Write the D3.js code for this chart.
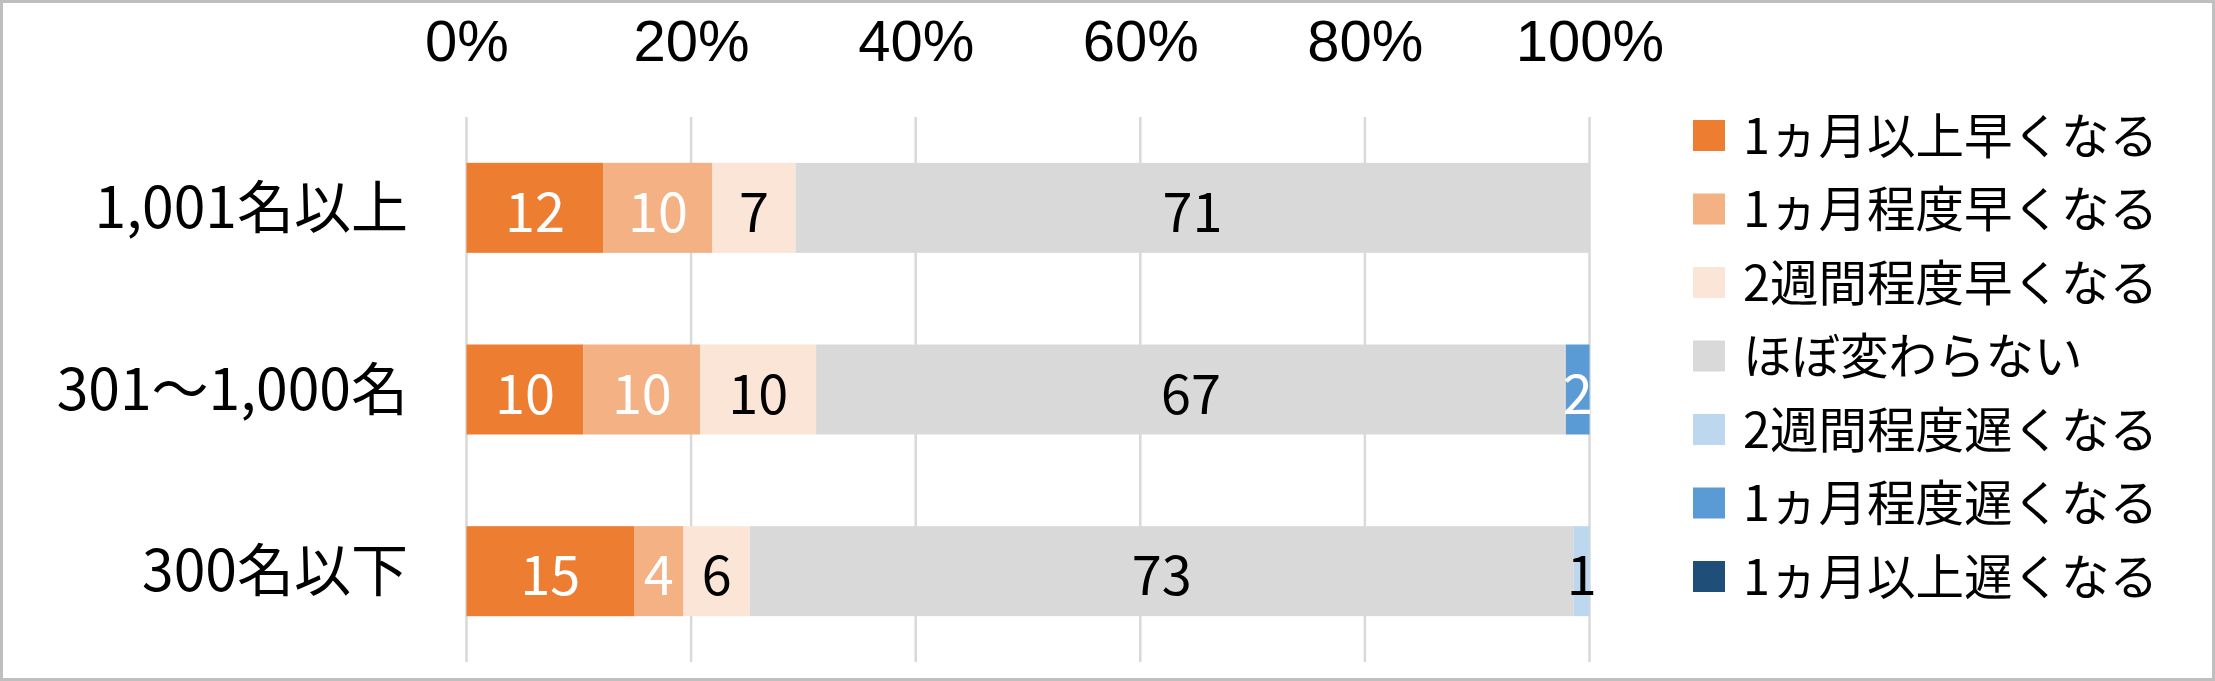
<!DOCTYPE html>
<html>
<head>
<meta charset="utf-8">
<script src="https://cdn.jsdelivr.net/npm/d3@7"></script>
<style>
  html, body { margin: 0; padding: 0; background: #fff; }
  svg { display: block; }
  text { font-family: "Noto Sans CJK JP", "Noto Sans", sans-serif; }
</style>
</head>
<body>
<svg id="chart" width="2215" height="681"></svg>
<script>
// ---- data ----
const categories = ["1,001名以上", "301～1,000名", "300名以下"];
const seriesNames = ["1ヵ月以上早くなる", "1ヵ月程度早くなる", "2週間程度早くなる", "ほぼ変わらない", "2週間程度遅くなる", "1ヵ月程度遅くなる", "1ヵ月以上遅くなる"];
const seriesColors = ["#ED7D31", "#F4B183", "#FBE5D6", "#D9D9D9", "#BDD7EE", "#5B9BD5", "#1F4E79"];
const labelColors = ["#ffffff", "#ffffff", "#000000", "#000000", "#000000", "#ffffff", "#ffffff"];
const s1 = [12.2, 10.4, 14.9];   // 1ヵ月以上早くなる
const s2 = [9.7, 10.4, 4.4];     // 1ヵ月程度早くなる
const s3 = [7.4, 10.3, 5.9];     // 2週間程度早くなる
const s4 = [70.7, 66.7, 73.3];   // ほぼ変わらない
const s5 = [0, 0, 1.4];          // 2週間程度遅くなる
const s6 = [0, 2.1, 0];          // 1ヵ月程度遅くなる
const s7 = [0, 0, 0];            // 1ヵ月以上遅くなる
const tickValues = [0, 0.2, 0.4, 0.6, 0.8, 1.0];

const seriesValues = [s1, s2, s3, s4, s5, s6, s7];
const rows = categories.map((c, i) => {
  const r = { cat: c };
  seriesNames.forEach((n, k) => r[n] = seriesValues[k][i]);
  return r;
});

// ---- layout ----
const svg = d3.select("#chart");
const W = 2215, H = 681;
const plot = { left: 466.5, right: 1589.5, top: 117, bottom: 662 };

svg.append("rect").attr("x", 1.5).attr("y", 1.5).attr("width", W - 3).attr("height", H - 3)
  .attr("fill", "#fff").attr("stroke", "#BFBFBF").attr("stroke-width", 3);

const x = d3.scaleLinear().domain([0, 1]).range([plot.left, plot.right]);
const y = d3.scaleBand().domain(categories).range([plot.top, plot.bottom])
  .paddingInner(0.5046).paddingOuter(0.2523);

// gridlines
svg.append("g").selectAll("line").data(tickValues).join("line")
  .attr("x1", d => x(d)).attr("x2", d => x(d))
  .attr("y1", plot.top).attr("y2", plot.bottom)
  .attr("stroke", "#D9D9D9").attr("stroke-width", 2.5);

// top axis labels
const xAxis = d3.axisTop(x).tickValues(tickValues).tickFormat(d3.format(".0%")).tickSize(0);
const gx = svg.append("g").attr("transform", `translate(0,61)`).call(xAxis);
gx.select(".domain").remove();
gx.selectAll("text").attr("y", 0).attr("dy", "0").attr("font-size", 58)
  .attr("fill", "#000").style("font-family", '"Liberation Sans", sans-serif');

// category axis
const yAxis = d3.axisLeft(y).tickSize(0);
const gy = svg.append("g").attr("transform", `translate(408,0)`).call(yAxis);
gy.select(".domain").remove();
gy.selectAll("text").attr("x", 0).attr("dy", "20px").attr("font-size", 57)
  .attr("fill", "#000").attr("text-anchor", "end").style("font-family", '"Noto Sans CJK JP", sans-serif');

// stacked bars
const stack = d3.stack().keys(seriesNames).offset(d3.stackOffsetExpand);
const stacked = stack(rows);

const layers = svg.append("g").selectAll("g").data(stacked).join("g")
  .attr("fill", (d, i) => seriesColors[i]);
layers.selectAll("rect").data(d => d).join("rect")
  .attr("x", d => x(d[0]))
  .attr("width", d => Math.max(0, x(d[1]) - x(d[0])))
  .attr("y", d => y(d.data.cat))
  .attr("height", y.bandwidth());

// data labels
const labels = svg.append("g");
stacked.forEach((layer, si) => {
  layer.forEach(d => {
    const v = d.data[layer.key];
    if (!v) return;
    labels.append("text")
      .attr("x", (x(d[0]) + x(d[1])) / 2)
      .attr("y", y(d.data.cat) + y.bandwidth() / 2 + 24)
      .attr("text-anchor", "middle")
      .attr("font-size", 54)
      .attr("fill", labelColors[si])
      .text(d3.format(".0f")(v));
  });
});

// legend
const legend = svg.append("g").attr("transform", "translate(1693,135.5)");
const li = legend.selectAll("g").data(seriesNames).join("g")
  .attr("transform", (d, i) => `translate(0,${i * 73.5})`);
li.append("rect").attr("x", 0).attr("y", -15.5).attr("width", 32).attr("height", 31)
  .attr("fill", (d, i) => seriesColors[i]);
li.append("text").attr("x", 50).attr("y", 18).attr("font-size", 48.5).attr("fill", "#000")
  .text(d => d);
</script>
</body>
</html>
